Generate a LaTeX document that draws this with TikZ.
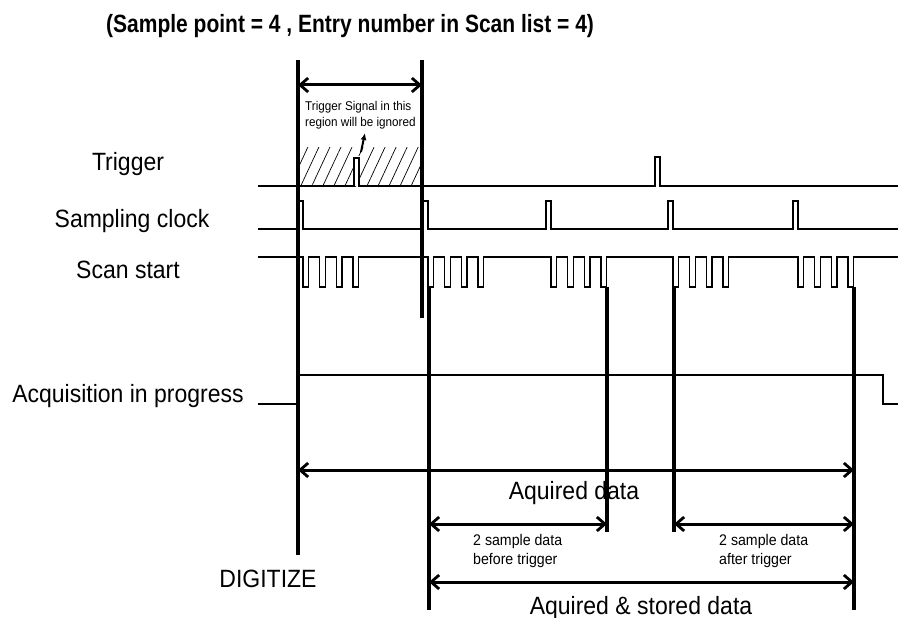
\documentclass[tikz,border=0pt]{standalone}
\usepackage{fontspec}
\setmainfont{Liberation Sans}[FakeStretch=0.92]
\newfontfamily\headfont{Liberation Sans}[FakeStretch=0.84]
\usepackage{tikz}
\usetikzlibrary{arrows.meta,patterns.meta}

\begin{document}
\begin{tikzpicture}[
  x=1pt, y=-1pt,
  signal/.style={line width=1.4pt, line join=miter},
  marker/.style={line width=3.2pt},
  dim/.style={{Straight Barb[length=8pt,width=14pt,line width=2.8pt]}-{Straight Barb[length=8pt,width=14pt,line width=2.8pt]}, line width=3pt},
  lbl/.style={font=\fontsize{25}{30}\selectfont, anchor=base, inner sep=0pt},
  note/.style={font=\fontsize{12.7}{16}\selectfont, align=left, anchor=base west, inner sep=0pt},
  sample/.style={font=\fontsize{15.4}{19}\selectfont, align=left, anchor=base west, inner sep=0pt}
]
\useasboundingbox (0,0) rectangle (900,618);

% title
\node[anchor=base west, inner sep=0pt, font=\headfont\bfseries\fontsize{25}{30}\selectfont] (title) at (106,33) {(Sample point = 4 , Entry number in Scan list = 4)};

% signal names
\node[lbl] (trig) at (128,170) {Trigger};
\node[lbl] (clk) at (132,227) {Sampling clock};
\node[lbl] (scan) at (128,278) {Scan start};
\node[lbl] (acq) at (128,402) {Acquisition in progress};

% ignored region
\fill[pattern={Lines[angle=65,distance=10pt,line width=0.7pt]}] (298,147) rectangle (422,186);
\fill[white] (353,156) rectangle (360,186);

% trigger
\draw[signal] (258,186) -- (354,186) -- (354,158) -- (359,158) -- (359,186)
  -- (655,186) -- (655,157) -- (660,157) -- (660,186) -- (898,186);

% sampling clock
\draw[signal] (258,229) foreach \c in {298,423,546,668,793} {
  -- (\c,229) -- (\c,201) -- (\c+5,201) -- (\c+5,229) } -- (898,229);

% scan start, 4 entries after each clock
\draw[signal] (258,257) foreach \c in {298,423,546,668,793} {
  foreach \k in {0,...,3} {
    -- ({\c+5+\k*16.7},257) -- ++(0,30) -- ++(5.5,0) -- ++(0,-30) } } -- (898,257);

% acquisition in progress
\draw[signal, line width=1.2pt] (258,404) -- (297,404) -- (297,375) -- (883,375) -- (883,404) -- (898,404);

% timing markers
\coordinate (digitize) at (298,60);
\coordinate (ignend) at (422,60);
\coordinate (storestart) at (429,287);
\coordinate (preend) at (607,287);
\coordinate (trigpt) at (674,287);
\coordinate (storeend) at (854,287);
\draw[marker] (digitize) -- ++(0,495);
\draw[marker] (ignend) -- ++(0,258);
\draw[marker] (storestart) -- ++(0,323);
\draw[marker] (preend) -- ++(0,245);
\draw[marker] (trigpt) -- ++(0,245);
\draw[marker] (storeend) -- ++(0,323);

% ignored trigger
\draw[dim] (digitize |- 0,85) -- (ignend |- 0,85);
\node[note] (ignnote) at (305,126) {Trigger Signal in this\\region will be ignored};
\coordinate (ignpulse) at (361,152);
\coordinate (ignhead) at (365,133);
\draw[-{Latex[length=7pt,width=6pt]}, line width=2pt] (ignpulse) -- (ignhead);

% data ranges
\draw[dim] (digitize |- 0,470) -- (storeend |- 0,470);
\node[lbl] (aqdata) at (574,499) {Aquired data};
\draw[dim] (storestart |- 0,524) -- (preend |- 0,524);
\draw[dim] (trigpt |- 0,524) -- (storeend |- 0,524);
\node[sample] (before) at (473,564) {2 sample data\\before trigger};
\node[sample] (after) at (719,564) {2 sample data\\after trigger};
\draw[dim] (storestart |- 0,582) -- (storeend |- 0,582);
\node[lbl] (stored) at (641,614) {Aquired \& stored data};
\node[lbl] (dig) at (268,587) {DIGITIZE};
\end{tikzpicture}
\end{document}
